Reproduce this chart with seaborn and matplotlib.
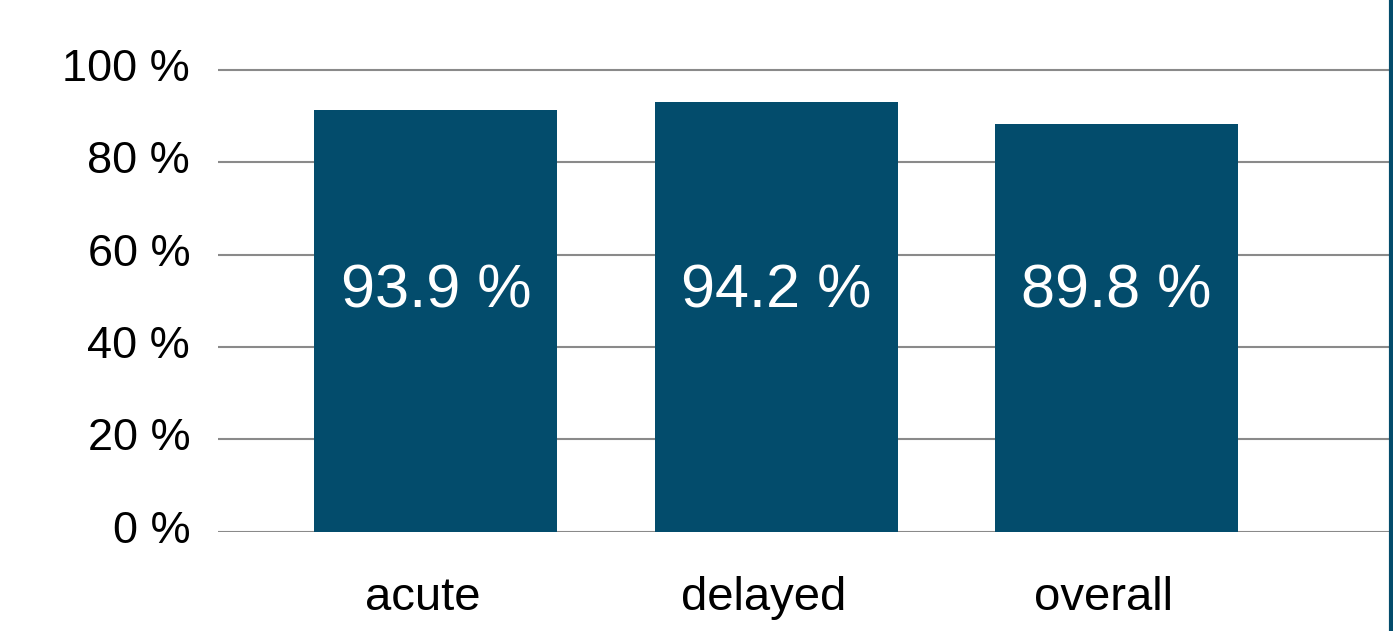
import matplotlib
matplotlib.use("Agg")
import matplotlib.pyplot as plt
from matplotlib.lines import Line2D
from matplotlib.transforms import ScaledTranslation
import seaborn as sns
import pandas as pd

# data
categories = ["acute", "delayed", "overall"]
bar_heights = [91.3, 93.0, 88.3]          # drawn bar height (% of axis)
bar_labels = ["93.9 %", "94.2 %", "89.8 %"]  # text printed inside bars
y_ticks = [0, 20, 40, 60, 80, 100]

BAR_COLOR = "#034C6C"

sns.set_theme(style="white")
plt.rcParams["font.family"] = ["Liberation Sans", "DejaVu Sans"]

df = pd.DataFrame({"phase": categories, "value": bar_heights})

fig = plt.figure(figsize=(13.93, 6.31), dpi=100)
ax = fig.add_axes([218 / 1393, 1 - 531.7 / 631, (1389 - 218) / 1393, 461.7 / 631 * 1.005])

sns.barplot(data=df, x="phase", y="value", color=BAR_COLOR, saturation=1,
            width=0.714, linewidth=0, ax=ax, zorder=3)

ax.set_ylim(0, 100.5)
ax.set_xlim(-0.64, 2.80)
ax.set_yticks(y_ticks)
ax.set_yticklabels([f"{t} %" for t in y_ticks])
ax.yaxis.grid(True, color="#8a8a8a", linewidth=1.5, zorder=0)
ax.set_axisbelow(True)
ax.set_xlabel("")
ax.set_ylabel("")
ax.tick_params(axis="y", length=0, pad=20, labelsize=32.5, labelcolor="black")
ax.tick_params(axis="x", length=0, pad=32, labelsize=34, labelcolor="black")
for s in ax.spines.values():
    s.set_visible(False)

# small nudges so the labels sit like in the slide
for lab in ax.get_yticklabels():
    lab.set_transform(lab.get_transform() + ScaledTranslation(0, 5 / 100, fig.dpi_scale_trans))
for lab in ax.get_xticklabels():
    lab.set_transform(lab.get_transform() + ScaledTranslation(-13 / 100, 0, fig.dpi_scale_trans))

# value labels inside the bars
for i, lab in enumerate(bar_labels):
    ax.text(i, 52, lab, ha="center", va="center", color="white", fontsize=44)

# dark vertical line at the right edge of the slide
fig.add_artist(Line2D([0.9985, 0.9985], [0, 1], color=BAR_COLOR, linewidth=3,
                      transform=fig.transFigure))

fig.savefig("out.png", dpi=100)
